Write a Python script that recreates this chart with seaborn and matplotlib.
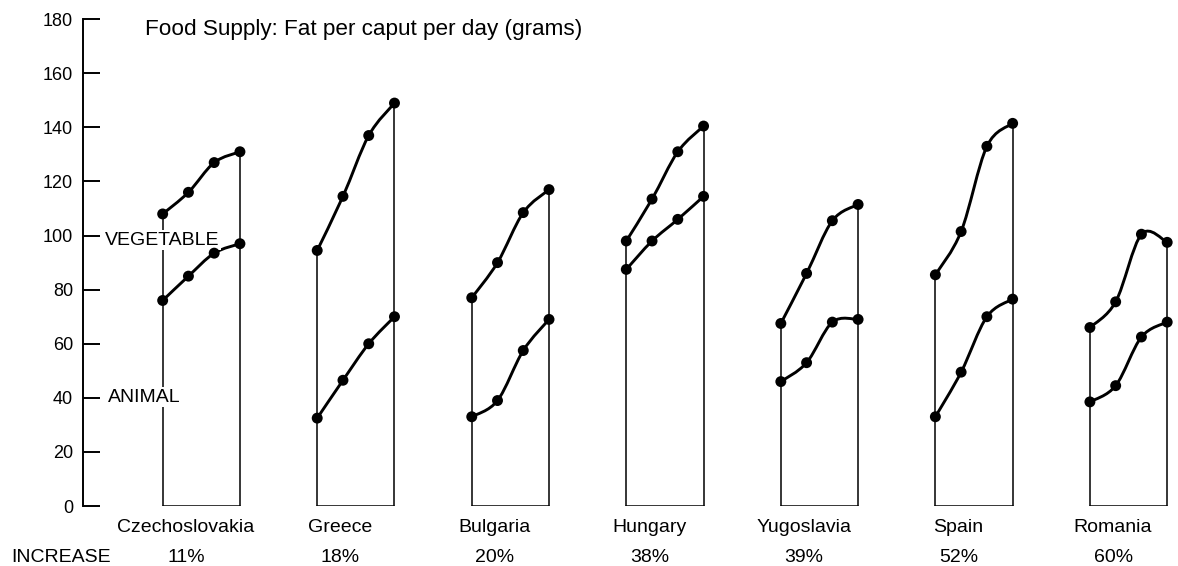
import numpy as np
import pandas as pd
import matplotlib
matplotlib.use('Agg')
import matplotlib.pyplot as plt
import matplotlib.transforms as mtransforms
from matplotlib.path import Path
from matplotlib.patches import PathPatch
import seaborn as sns

# Fat supply per caput per day (grams), four periods per country
countries = ['Czechoslovakia', 'Greece', 'Bulgaria', 'Hungary',
             'Yugoslavia', 'Spain', 'Romania']
increase = ['11%', '18%', '20%', '38%', '39%', '52%', '60%']

# upper curve: total fat (animal + vegetable)
total_fat = [
    [108, 116, 127, 131],
    [94.5, 114.5, 137, 149],
    [77, 90, 108.5, 117],
    [98, 113.5, 131, 140.5],
    [67.5, 86, 105.5, 111.5],
    [85.5, 101.5, 133, 141.5],
    [66, 75.5, 100.5, 97.5],
]
# lower curve: animal fat
animal_fat = [
    [76, 85, 93.5, 97],
    [32.5, 46.5, 60, 70],
    [33, 39, 57.5, 69],
    [87.5, 98, 106, 114.5],
    [46, 53, 68, 69],
    [33, 49.5, 70, 76.5],
    [38.5, 44.5, 62.5, 68],
]

rows = []
for g, c in enumerate(countries):
    for j in range(4):
        rows.append({'country': c, 'group': g, 'step': j,
                     'pos': g * 2 + j / 3,
                     'animal': animal_fat[g][j], 'total': total_fat[g][j]})
df = pd.DataFrame(rows)


def smooth_path(xs, ys):
    # Catmull-Rom curve through the points, as cubic Bezier segments
    pts = np.column_stack([xs, ys]).astype(float)
    ext = np.vstack([pts[0], pts, pts[-1]])
    verts = [pts[0]]
    codes = [Path.MOVETO]
    for k in range(len(pts) - 1):
        p0, p1, p2, p3 = ext[k], ext[k + 1], ext[k + 2], ext[k + 3]
        verts += [p1 + (p2 - p0) / 6, p2 - (p3 - p1) / 6, p2]
        codes += [Path.CURVE4] * 3
    return Path(verts, codes)


sns.set_theme(style='white')
plt.rcParams['font.family'] = ['Liberation Sans', 'DejaVu Sans']

fig = plt.figure(figsize=(11.78, 5.66), dpi=100)
ax = fig.add_axes([0.0702, 0.106, 0.9298, 0.86])

for g, c in enumerate(countries):
    sub = df[df['group'] == g]
    left, right = g * 2, g * 2 + 1
    ax.plot([left, left], [0, sub['total'].iloc[0]], color='black', lw=1.1)
    ax.plot([right, right], [0, sub['total'].iloc[-1]], color='black', lw=1.1)
    ax.plot([left, right], [0, 0], color='black', lw=1.1)
    for col in ['total', 'animal']:
        ax.add_patch(PathPatch(smooth_path(sub['pos'], sub[col]),
                               fill=False, edgecolor='black', lw=2.1,
                               capstyle='round'))

for col in ['total', 'animal']:
    sns.scatterplot(data=df, x='pos', y=col, color='black', s=62,
                    edgecolor='none', ax=ax, zorder=5)

ax.set_xlim(-1.035, 13.14)
ax.set_ylim(0, 180)
ax.set_yticks(range(0, 181, 20))
ax.set_xticks([])
ax.set_xlabel('')
ax.set_ylabel('')
sns.despine(ax=ax, bottom=True)
ax.spines['left'].set_linewidth(1.4)
ax.spines['left'].set_color('black')
ax.tick_params(axis='y', direction='in', length=12.2, width=1.4, pad=7,
               labelsize=13, colors='black', left=True)

trans = mtransforms.blended_transform_factory(ax.transData, ax.transAxes)
for g, c in enumerate(countries):
    ax.text(g * 2 + 0.3, -0.0528, c, transform=trans, ha='center',
            va='baseline', fontsize=14, color='black')
    ax.text(g * 2 + 0.3, -0.1151, increase[g], transform=trans, ha='center',
            va='baseline', fontsize=14, color='black')

box = dict(facecolor='white', edgecolor='none', pad=1)
ax.text(-0.747, 96.7, 'VEGETABLE', ha='left', va='baseline', fontsize=14,
        color='black', bbox=box, zorder=4)
ax.text(-0.704, 38.6, 'ANIMAL', ha='left', va='baseline', fontsize=14,
        color='black', bbox=box, zorder=4)

fig.text(145 / 1178, 1 - 35 / 566, 'Food Supply: Fat per caput per day (grams)',
         ha='left', va='baseline', fontsize=16.2, color='black')
fig.text(11.7 / 1178, 4 / 566, 'INCREASE', ha='left', va='baseline',
         fontsize=14, color='black')

fig.savefig('out.png', dpi=100)
